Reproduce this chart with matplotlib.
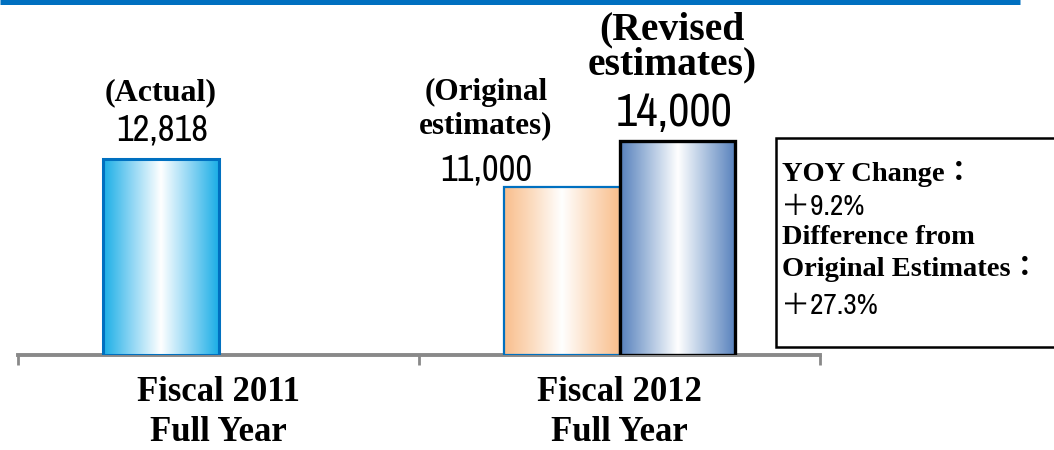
import matplotlib
matplotlib.use("Agg")
import matplotlib.pyplot as plt
import numpy as np
from matplotlib import font_manager
from matplotlib.colors import LinearSegmentedColormap
from matplotlib.patches import Rectangle
from matplotlib.lines import Line2D

# ---- data ----
categories = ["Fiscal 2011\nFull Year", "Fiscal 2012\nFull Year"]
actual_values = [12818, None]
original_values = [None, 11000]
revised_values = [None, 14000]
bar_value_labels = {"actual": "12,818", "original": "11,000", "revised": "14,000"}
series_titles = {"actual": "(Actual)", "original": "(Original\nestimates)",
                 "revised": "(Revised\nestimates)"}
note_lines = ["YOY Change：", "＋9.2%", "Difference from", "Original Estimates：", "＋27.3%"]

W, H, DPI = 1054, 450, 100
fig = plt.figure(figsize=(W / DPI, H / DPI), dpi=DPI)
fig.patch.set_facecolor("white")

installed = {f.name for f in font_manager.fontManager.ttflist}
def pick(prefs):
    for p in prefs:
        if p in installed:
            return p
    return "DejaVu Sans"

NARROW_FONT = pick(["Liberation Sans Narrow", "Arial Narrow", "Archivo Narrow", "PT Sans Narrow",
                    "Roboto Condensed", "IBM Plex Sans Condensed", "Liberation Sans"])
SERIF = ["Liberation Serif", "Noto Sans CJK JP", "DejaVu Sans"]
NARROW = [NARROW_FONT, "Noto Sans CJK JP", "DejaVu Sans"]

# axes placement in pixels
ax_left, ax_right, ax_base = 18, 820, 355
ax = fig.add_axes([ax_left / W, (H - ax_base) / H, (ax_right - ax_left) / W, ax_base / H])
ax.patch.set_alpha(0)

bw = 0.2875
x = np.arange(len(categories))

def grad_bar(xc, val, edge_color, grad_colors, edge_lw):
    cmap = LinearSegmentedColormap.from_list("g", grad_colors)
    bar = ax.bar([xc], [val], width=bw, facecolor="none", edgecolor=edge_color,
                 linewidth=edge_lw, zorder=4)[0]
    grad = np.linspace(0, 1, 256).reshape(1, -1)
    im = ax.imshow(grad, cmap=cmap, aspect="auto",
                   extent=[xc - bw / 2, xc + bw / 2, 0, val], zorder=3)
    im.set_clip_path(bar)
    return bar

edge1 = "#1AAEE6"
edge2 = "#F9BE8C"
edge3 = "#5680BC"
for i in range(len(categories)):
    if actual_values[i] is not None:
        grad_bar(x[i] - bw / 2, actual_values[i], "#0070C0",
                 [edge1, "#8FD6F4", "#FFFFFF", "#8FD6F4", edge1], 2.2)
    if original_values[i] is not None:
        grad_bar(x[i] - bw / 2, original_values[i], "#0070C0",
                 [edge2, "#FCDDC2", "#FFFFFF", "#FCDDC2", edge2], 1.6)
    if revised_values[i] is not None:
        grad_bar(x[i] + bw / 2, revised_values[i], "#000000",
                 [edge3, "#A9C0DE", "#FFFFFF", "#A9C0DE", edge3], 2.4)

ax.set_xlim(-0.5, 1.5)
ax.set_ylim(0, 23200)

# axis styling
for s in ["top", "left", "right"]:
    ax.spines[s].set_visible(False)
ax.spines["bottom"].set_color("#898989")
ax.spines["bottom"].set_linewidth(2.8)
ax.spines["bottom"].set_zorder(2)
ax.set_yticks([])
ax.set_xticks([-0.5, 0.5, 1.5])
ax.set_xticklabels([])
ax.tick_params(axis="x", which="major", length=7.5, width=2, color="#898989", direction="out")
ax.set_xticks(x, minor=True)
ax.set_xticklabels(categories, minor=True, fontfamily=SERIF, fontweight="bold",
                   fontsize=25, linespacing=1.3)
ax.tick_params(axis="x", which="minor", length=0, pad=15)

def px2pt(p):
    return p * 72 / DPI

renderer = fig.canvas.get_renderer()
def fit_width(t, target_px, max_size):
    w = t.get_window_extent(renderer).width
    if w > 0:
        t.set_fontsize(min(max_size, t.get_fontsize() * target_px / w))

# value + title labels
t = ax.annotate(bar_value_labels["actual"], (x[0] - bw / 2, actual_values[0]),
                xytext=(px2pt(1), px2pt(29)), textcoords="offset points", ha="center", va="center",
                fontfamily=NARROW, fontsize=26)
fit_width(t, 92, 28)
ax.annotate(series_titles["actual"], (x[0] - bw / 2, actual_values[0]),
            xytext=(0, px2pt(66)), textcoords="offset points", ha="center", va="center",
            fontfamily=SERIF, fontweight="bold", fontsize=23)

t = ax.annotate(bar_value_labels["original"], (x[1] - bw / 2, original_values[1]),
                xytext=(px2pt(-76), px2pt(17)), textcoords="offset points", ha="center", va="center",
                fontfamily=NARROW, fontsize=26)
fit_width(t, 92, 27)
ax.annotate(series_titles["original"], (x[1] - bw / 2, original_values[1]),
            xytext=(px2pt(-76), px2pt(78)), textcoords="offset points", ha="center", va="center",
            fontfamily=SERIF, fontweight="bold", fontsize=22.5, linespacing=1.2)

t = ax.annotate(bar_value_labels["revised"], (x[1] + bw / 2, revised_values[1]),
                xytext=(px2pt(-3), px2pt(28)), textcoords="offset points", ha="center", va="center",
                fontfamily=NARROW, fontsize=32)
fit_width(t, 117, 34)
ax.annotate(series_titles["revised"], (x[1] + bw / 2, revised_values[1]),
            xytext=(px2pt(-5), px2pt(93)), textcoords="offset points", ha="center", va="center",
            fontfamily=SERIF, fontweight="bold", fontsize=28.5, linespacing=0.92)

# top blue rule
fig.add_artist(Line2D([0, 1020 / W], [1 - 2 / H, 1 - 2 / H], transform=fig.transFigure,
                      color="#0070C0", linewidth=px2pt(5), solid_capstyle="butt"))

# note box
bx0, by_top, by_bot = 776, 138, 347
fig.add_artist(Rectangle((bx0 / W, (H - by_bot) / H), (W + 20 - bx0) / W, (by_bot - by_top) / H,
                         transform=fig.transFigure, facecolor="white", edgecolor="black",
                         linewidth=1.8, zorder=5))
line_y = [174, 206, 238, 269, 305]
for txt, yy in zip(note_lines, line_y):
    if txt.startswith("＋"):
        fig.text(781 / W, 1 - yy / H, txt, fontfamily=NARROW, fontsize=21,
                 ha="left", va="center", zorder=6)
    else:
        fig.text(782 / W, 1 - yy / H, txt, fontfamily=SERIF, fontweight="bold", fontsize=20.5,
                 ha="left", va="center", zorder=6)

fig.savefig("out.png", dpi=DPI)
